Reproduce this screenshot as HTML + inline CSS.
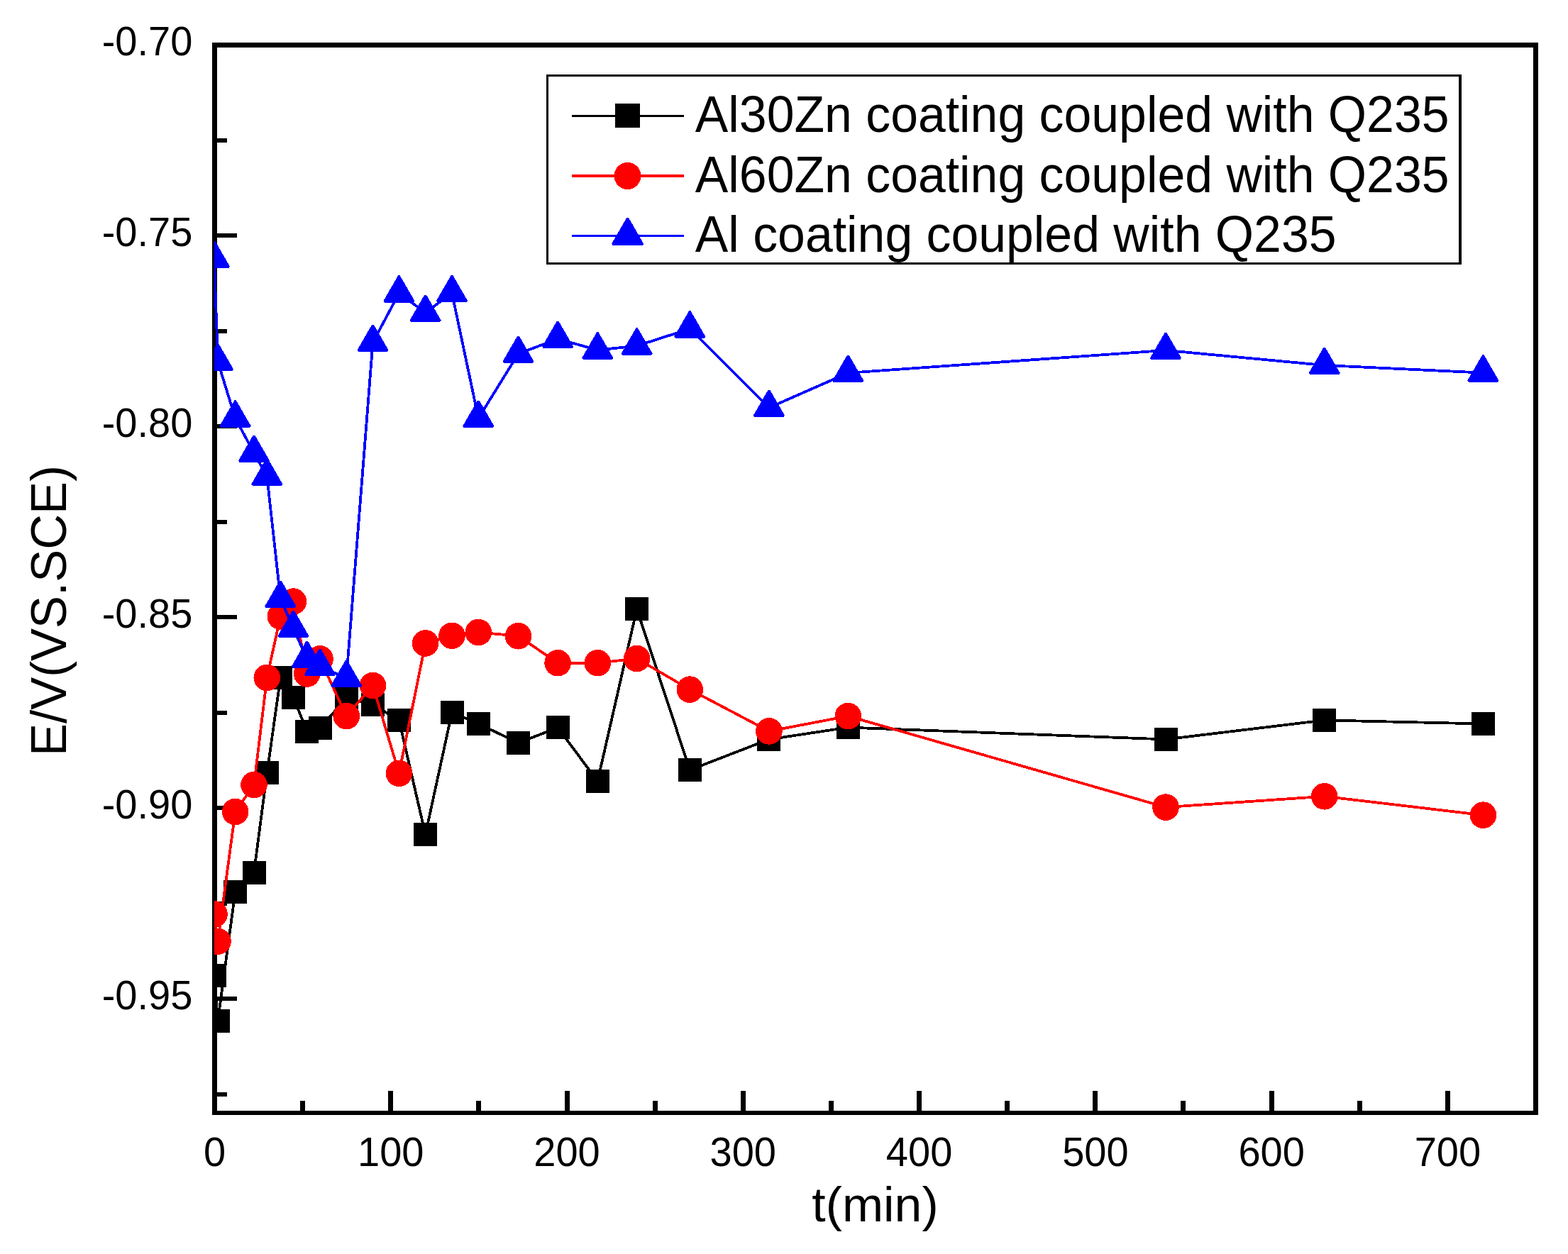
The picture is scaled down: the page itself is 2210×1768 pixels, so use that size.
<!DOCTYPE html>
<html lang="en"><head><meta charset="utf-8"><title>E/V(VS.SCE) vs t(min)</title>
<style>html,body{margin:0;padding:0;background:#fff}body{width:2210px;height:1768px}svg{display:block}text{font-family:"Liberation Sans",sans-serif;fill:#000;font-kerning:none}.tk{font-size:56px}.lg{font-size:70px}.tt{font-size:70px}</style></head><body>
<svg width="2210" height="1768" viewBox="0 0 2210 1768" shape-rendering="crispEdges">
<rect x="0" y="0" width="2210" height="1768" fill="#fff"/>
<defs><clipPath id="pc"><rect x="302" y="63.5" width="1862.5" height="1506"/></clipPath></defs>
<g stroke="#000" stroke-width="7" fill="none">
<line x1="426.63" y1="1569.5" x2="426.63" y2="1551.9"/>
<line x1="550.77" y1="1569.5" x2="550.77" y2="1537.9"/>
<line x1="674.9" y1="1569.5" x2="674.9" y2="1551.9"/>
<line x1="799.03" y1="1569.5" x2="799.03" y2="1537.9"/>
<line x1="923.17" y1="1569.5" x2="923.17" y2="1551.9"/>
<line x1="1047.3" y1="1569.5" x2="1047.3" y2="1537.9"/>
<line x1="1171.43" y1="1569.5" x2="1171.43" y2="1551.9"/>
<line x1="1295.57" y1="1569.5" x2="1295.57" y2="1537.9"/>
<line x1="1419.7" y1="1569.5" x2="1419.7" y2="1551.9"/>
<line x1="1543.83" y1="1569.5" x2="1543.83" y2="1537.9"/>
<line x1="1667.97" y1="1569.5" x2="1667.97" y2="1551.9"/>
<line x1="1792.1" y1="1569.5" x2="1792.1" y2="1537.9"/>
<line x1="1916.23" y1="1569.5" x2="1916.23" y2="1551.9"/>
<line x1="2040.37" y1="1569.5" x2="2040.37" y2="1537.9"/>
</g>
<g stroke="#000" stroke-width="6" fill="none">
<line x1="302.5" y1="197.96" x2="320.2" y2="197.96"/>
<line x1="302.5" y1="332.43" x2="333.5" y2="332.43"/>
<line x1="302.5" y1="466.89" x2="320.2" y2="466.89"/>
<line x1="302.5" y1="601.36" x2="333.5" y2="601.36"/>
<line x1="302.5" y1="735.82" x2="320.2" y2="735.82"/>
<line x1="302.5" y1="870.29" x2="333.5" y2="870.29"/>
<line x1="302.5" y1="1004.75" x2="320.2" y2="1004.75"/>
<line x1="302.5" y1="1139.21" x2="333.5" y2="1139.21"/>
<line x1="302.5" y1="1273.68" x2="320.2" y2="1273.68"/>
<line x1="302.5" y1="1408.14" x2="333.5" y2="1408.14"/>
<line x1="302.5" y1="1542.61" x2="320.2" y2="1542.61"/>
</g>
<g fill="#000">
<rect x="299.2" y="60.2" width="1868.6" height="6.6"/>
<rect x="299.2" y="1566" width="1868.6" height="6"/>
<rect x="299.2" y="60.2" width="6.6" height="1511.8"/>
<rect x="2161.2" y="60.2" width="6.6" height="1511.8"/>
</g>
<g>
<text class="tk" text-anchor="end" transform="translate(271.3 78.4) scale(1 1.03)">-0.70</text>
<text class="tk" text-anchor="end" transform="translate(271.3 347.33) scale(1 1.03)">-0.75</text>
<text class="tk" text-anchor="end" transform="translate(271.3 616.26) scale(1 1.03)">-0.80</text>
<text class="tk" text-anchor="end" transform="translate(271.3 885.19) scale(1 1.03)">-0.85</text>
<text class="tk" text-anchor="end" transform="translate(271.3 1154.11) scale(1 1.03)">-0.90</text>
<text class="tk" text-anchor="end" transform="translate(271.3 1423.04) scale(1 1.03)">-0.95</text>
</g>
<g>
<text class="tk" text-anchor="middle" transform="translate(302.5 1643.6) scale(1 1.03)">0</text>
<text class="tk" text-anchor="middle" transform="translate(550.77 1643.6) scale(1 1.03)">100</text>
<text class="tk" text-anchor="middle" transform="translate(799.03 1643.6) scale(1 1.03)">200</text>
<text class="tk" text-anchor="middle" transform="translate(1047.3 1643.6) scale(1 1.03)">300</text>
<text class="tk" text-anchor="middle" transform="translate(1295.57 1643.6) scale(1 1.03)">400</text>
<text class="tk" text-anchor="middle" transform="translate(1543.83 1643.6) scale(1 1.03)">500</text>
<text class="tk" text-anchor="middle" transform="translate(1792.1 1643.6) scale(1 1.03)">600</text>
<text class="tk" text-anchor="middle" transform="translate(2040.37 1643.6) scale(1 1.03)">700</text>
</g>
<text class="tt" text-anchor="middle" transform="translate(1233.5 1722) scale(0.997 0.975)">t(min)</text>
<text class="tt" text-anchor="middle" transform="translate(93 861) rotate(-90) scale(0.985 1)">E/V(VS.SCE)</text>
<g clip-path="url(#pc)">
<polyline points="302,1375.4 307,1439.4 331.6,1257.1 358,1230 376.3,1089.9 395.3,955.9 413.4,983 432.7,1031 451,1026 488.2,984.6 525.5,993.7 562.4,1015.4 599.6,1176.6 637,1004.3 674.3,1020.4 730.5,1047.4 786.1,1025.9 842.3,1101.2 897.6,858.5 972.3,1085.6 1083.9,1042.4 1195.3,1025.6 1643,1042.4 1866.7,1015.4 2090.4,1020.5" fill="none" stroke="#000" stroke-width="3.8" stroke-linejoin="round"/>
<g fill="#000">
<rect x="285.5" y="1358.9" width="33" height="33"/>
<rect x="290.5" y="1422.9" width="33" height="33"/>
<rect x="315.1" y="1240.6" width="33" height="33"/>
<rect x="341.5" y="1213.5" width="33" height="33"/>
<rect x="359.8" y="1073.4" width="33" height="33"/>
<rect x="378.8" y="939.4" width="33" height="33"/>
<rect x="396.9" y="966.5" width="33" height="33"/>
<rect x="416.2" y="1014.5" width="33" height="33"/>
<rect x="434.5" y="1009.5" width="33" height="33"/>
<rect x="471.7" y="968.1" width="33" height="33"/>
<rect x="509" y="977.2" width="33" height="33"/>
<rect x="545.9" y="998.9" width="33" height="33"/>
<rect x="583.1" y="1160.1" width="33" height="33"/>
<rect x="620.5" y="987.8" width="33" height="33"/>
<rect x="657.8" y="1003.9" width="33" height="33"/>
<rect x="714" y="1030.9" width="33" height="33"/>
<rect x="769.6" y="1009.4" width="33" height="33"/>
<rect x="825.8" y="1084.7" width="33" height="33"/>
<rect x="881.1" y="842" width="33" height="33"/>
<rect x="955.8" y="1069.1" width="33" height="33"/>
<rect x="1067.4" y="1025.9" width="33" height="33"/>
<rect x="1178.8" y="1009.1" width="33" height="33"/>
<rect x="1626.5" y="1025.9" width="33" height="33"/>
<rect x="1850.2" y="998.9" width="33" height="33"/>
<rect x="2073.9" y="1004" width="33" height="33"/>
</g>
<polyline points="302,1288.8 307,1327.3 331.6,1144.5 358,1106.5 376.3,955.5 395.3,869 413.4,848.1 432.7,950 451,928.8 488.2,1009.6 525.5,966.5 562.4,1090.3 599.6,906.9 637,896.3 674.3,891.5 730.5,896.7 786.1,934.7 842.3,934.7 897.6,928.5 972.3,972.1 1083.9,1030.9 1195.3,1009.6 1643,1138.1 1866.7,1122.8 2090.4,1149.2" fill="none" stroke="#f00" stroke-width="3.8" stroke-linejoin="round"/>
<g fill="#f00">
<circle cx="302" cy="1288.8" r="18.8"/>
<circle cx="307" cy="1327.3" r="18.8"/>
<circle cx="331.6" cy="1144.5" r="18.8"/>
<circle cx="358" cy="1106.5" r="18.8"/>
<circle cx="376.3" cy="955.5" r="18.8"/>
<circle cx="395.3" cy="869" r="18.8"/>
<circle cx="413.4" cy="848.1" r="18.8"/>
<circle cx="432.7" cy="950" r="18.8"/>
<circle cx="451" cy="928.8" r="18.8"/>
<circle cx="488.2" cy="1009.6" r="18.8"/>
<circle cx="525.5" cy="966.5" r="18.8"/>
<circle cx="562.4" cy="1090.3" r="18.8"/>
<circle cx="599.6" cy="906.9" r="18.8"/>
<circle cx="637" cy="896.3" r="18.8"/>
<circle cx="674.3" cy="891.5" r="18.8"/>
<circle cx="730.5" cy="896.7" r="18.8"/>
<circle cx="786.1" cy="934.7" r="18.8"/>
<circle cx="842.3" cy="934.7" r="18.8"/>
<circle cx="897.6" cy="928.5" r="18.8"/>
<circle cx="972.3" cy="972.1" r="18.8"/>
<circle cx="1083.9" cy="1030.9" r="18.8"/>
<circle cx="1195.3" cy="1009.6" r="18.8"/>
<circle cx="1643" cy="1138.1" r="18.8"/>
<circle cx="1866.7" cy="1122.8" r="18.8"/>
<circle cx="2090.4" cy="1149.2" r="18.8"/>
</g>
<polyline points="302,364.9 307,509.6 331.6,589.6 358,638.7 376.3,671.6 395.3,843.8 413.4,885.8 432.7,928.9 451,939.8 488.2,955.8 525.5,482.7 562.4,413.5 599.6,440.7 637,413.2 674.3,589.7 730.5,498.8 786.1,477.8 842.3,493.6 897.6,487.6 972.3,463.6 1083.9,574.8 1195.3,525.8 1643,493.9 1866.7,515 2090.4,525.6" fill="none" stroke="#00f" stroke-width="3.8" stroke-linejoin="round"/>
<g fill="#00f" stroke="#00f" stroke-width="3" stroke-linejoin="bevel">
<polygon points="302,340.55 322.7,376.4 281.3,376.4"/>
<polygon points="307,485.25 327.7,521.1 286.3,521.1"/>
<polygon points="331.6,565.25 352.3,601.1 310.9,601.1"/>
<polygon points="358,614.35 378.7,650.2 337.3,650.2"/>
<polygon points="376.3,647.25 397,683.1 355.6,683.1"/>
<polygon points="395.3,819.45 416,855.3 374.6,855.3"/>
<polygon points="413.4,861.45 434.1,897.3 392.7,897.3"/>
<polygon points="432.7,904.55 453.4,940.4 412,940.4"/>
<polygon points="451,915.45 471.7,951.3 430.3,951.3"/>
<polygon points="488.2,931.45 508.9,967.3 467.5,967.3"/>
<polygon points="525.5,458.35 546.2,494.2 504.8,494.2"/>
<polygon points="562.4,389.15 583.1,425 541.7,425"/>
<polygon points="599.6,416.35 620.3,452.2 578.9,452.2"/>
<polygon points="637,388.85 657.7,424.7 616.3,424.7"/>
<polygon points="674.3,565.35 695,601.2 653.6,601.2"/>
<polygon points="730.5,474.45 751.2,510.3 709.8,510.3"/>
<polygon points="786.1,453.45 806.8,489.3 765.4,489.3"/>
<polygon points="842.3,469.25 863,505.1 821.6,505.1"/>
<polygon points="897.6,463.25 918.3,499.1 876.9,499.1"/>
<polygon points="972.3,439.25 993,475.1 951.6,475.1"/>
<polygon points="1083.9,550.45 1104.6,586.3 1063.2,586.3"/>
<polygon points="1195.3,501.45 1216,537.3 1174.6,537.3"/>
<polygon points="1643,469.55 1663.7,505.4 1622.3,505.4"/>
<polygon points="1866.7,490.65 1887.4,526.5 1846,526.5"/>
<polygon points="2090.4,501.25 2111.1,537.1 2069.7,537.1"/>
</g>
</g>
<rect x="771.5" y="106.7" width="1286.5" height="265" fill="#fff" stroke="#000" stroke-width="3.2"/>
<line x1="805.5" y1="163.6" x2="964" y2="163.6" stroke="#000" stroke-width="3.2"/>
<rect x="867.35" y="145.85" width="34.5" height="34.5" fill="#000"/>
<text class="lg" transform="translate(979.8 186.1) scale(0.997 1.02)">Al30Zn coating coupled with Q235</text>
<line x1="805.5" y1="248" x2="964" y2="248" stroke="#f00" stroke-width="3.2"/>
<circle cx="884.5" cy="248" r="19" fill="#f00"/>
<text class="lg" transform="translate(979.8 270.9) scale(0.997 1.02)">Al60Zn coating coupled with Q235</text>
<line x1="805.5" y1="332.4" x2="964" y2="332.4" stroke="#00f" stroke-width="3.2"/>
<polygon points="884.6,307.45 905.8,344.45 863.4,344.45" stroke="#00f" stroke-width="3" stroke-linejoin="bevel" fill="#00f"/>
<text class="lg" transform="translate(979.8 354.9) scale(0.997 1.02)">Al coating coupled with Q235</text>
</svg></body></html>
